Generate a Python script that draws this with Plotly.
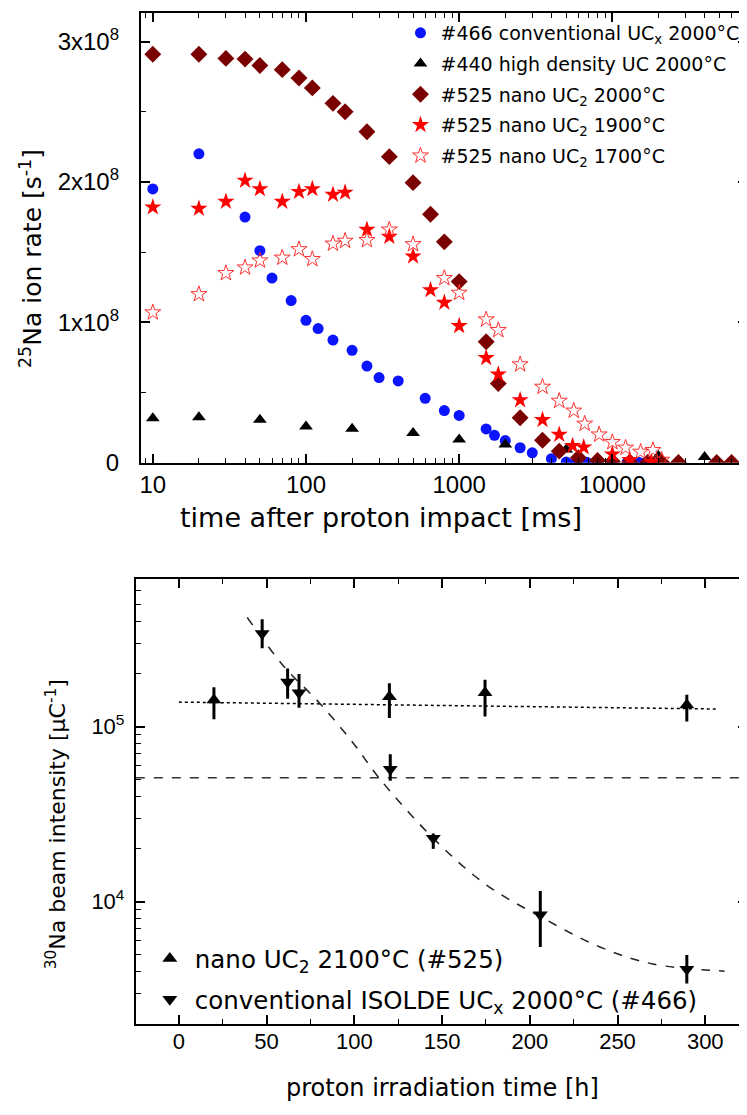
import plotly.graph_objects as go

W, H = 747, 1115
OX, OY = 8, 0  # page offset of the plot div


def fx(px):
    return (px - OX) / W


def fy(py):
    return min(1.0, 1 - (py - OY) / H)


# ---------------- top panel data (time in ms, rate in 1e8 s^-1) ----------------
t_466 = [10, 20, 40, 50, 60, 80, 100, 120, 150, 200, 250, 300, 400, 600, 800, 1000,
         1500, 1700, 2000, 2500, 3000, 4000, 5000, 5800, 6800, 8000, 10000, 12500, 15000, 16500]
r_466 = [1.95, 2.20, 1.75, 1.51, 1.315, 1.155, 1.014, 0.955, 0.873, 0.80, 0.688, 0.606, 0.582,
         0.458, 0.371, 0.336, 0.24, 0.195, 0.157, 0.106, 0.07, 0.028, 0.004, 0.003, 0.002,
         0.002, 0.001, 0.001, 0.001, 0.001]

t_440 = [10, 20, 50, 100, 200, 500, 1000, 2000, 5000, 20000, 40000]
r_440 = [0.317, 0.324, 0.305, 0.258, 0.242, 0.211, 0.164, 0.129, 0.094, 0.047, 0.04]

t_2000 = [10, 20, 30, 40, 50, 70, 90, 110, 150, 180, 250, 350, 500, 650, 800, 1000, 1500,
          1800, 2500, 3500, 4500, 6000, 8000, 10000, 13000, 17000, 21000, 27000, 48000, 60000]
r_2000 = [2.91, 2.91, 2.88, 2.875, 2.83, 2.80, 2.74, 2.67, 2.56, 2.50, 2.357, 2.18, 1.995,
          1.77, 1.573, 1.29, 0.861, 0.563, 0.32, 0.16, 0.082, 0.035, 0.015, 0.008, 0.004,
          0.002, 0.001, 0.001, 0.001, 0.001]

t_1900 = [10, 20, 30, 40, 50, 70, 90, 110, 150, 180, 250, 350, 500, 650, 800, 1000, 1500,
          1800, 2500, 3500, 4500, 5500, 6500, 10000, 13000, 18000]
r_1900 = [1.82, 1.81, 1.86, 2.01, 1.95, 1.86, 1.93, 1.95, 1.91, 1.925, 1.66, 1.61, 1.47,
          1.23, 1.14, 0.974, 0.746, 0.629, 0.446, 0.305, 0.20, 0.12, 0.11, 0.06, 0.02, 0.005]

t_1700 = [10, 20, 30, 40, 50, 70, 90, 110, 150, 180, 250, 350, 500, 800, 1000, 1500, 1800,
          2500, 3500, 4500, 5600, 6600, 8200, 10000, 12200, 15300, 18400, 21000]
r_1700 = [1.07, 1.20, 1.35, 1.39, 1.44, 1.46, 1.52, 1.45, 1.56, 1.58, 1.585, 1.66, 1.556,
          1.315, 1.21, 1.02, 0.944, 0.70, 0.54, 0.44, 0.37, 0.277, 0.20, 0.146, 0.106,
          0.077, 0.089, 0.02]

top_x_ticks = [10, 100, 1000, 10000]
top_y_ticks = [0, 1e8, 2e8, 3e8]
top_y_text = ["0", "1x10<sup>8</sup>", "2x10<sup>8</sup>", "3x10<sup>8</sup>"]

# ---------------- bottom panel data (irradiation time h, intensity uC^-1) ----------------
conv_t = [47.5, 62, 68.5, 120.5, 145, 206, 289.5]
conv_y = [3.4e5, 1.8e5, 1.56e5, 5.7e4, 2.3e4, 8.4e3, 4.1e3]
conv_hi = [4.1e5, 2.15e5, 2.0e5, 6.95e4, 2.45e4, 1.15e4, 4.95e3]
conv_lo = [2.8e5, 1.44e5, 1.28e5, 4.9e4, 2.0e4, 5.5e3, 3.4e3]

nano_t = [20, 120, 174.5, 289.5]
nano_y = [1.42e5, 1.48e5, 1.56e5, 1.33e5]
nano_hi = [1.68e5, 1.77e5, 1.85e5, 1.52e5]
nano_lo = [1.1e5, 1.12e5, 1.14e5, 1.07e5]

nano_fit_t = [0, 307]
nano_fit_y = [1.38e5, 1.26e5]

conv_level = 5.1e4

conv_fit_t = [39, 60, 80, 100, 114, 145, 175, 206, 240, 270, 311]
conv_fit_y = [4.2e5, 2.2e5, 1.37e5, 7.9e4, 5.1e4, 2.3e4, 1.25e4, 8.2e3, 5.5e3, 4.4e3, 4.0e3]

bot_x_range = [-24.5, 323.8]
bot_y_ticks = [1e4, 1e5]
bot_y_text = ["10<sup>4</sup>", "10<sup>5</sup>"]

# ---------------- figure ----------------
ARIAL = "Liberation Sans, Arial, sans-serif"
DEJA = "DejaVu Sans, Verdana, sans-serif"

fig = go.Figure()


def top_trace(x, y, name, symbol, color, size, lw=0):
    fig.add_trace(go.Scatter(
        x=x, y=[v * 1e8 for v in y], mode="markers", name=name,
        marker=dict(symbol=symbol, color=color, size=size, line=dict(width=lw, color=color)),
        xaxis="x", yaxis="y", legend="legend", legendgroup=name))


top_trace(t_466, r_466, "#466 conventional UC<sub>x</sub> 2000°C", "circle", "#0a14ff", 11)
top_trace(t_440, r_440, "#440 high density UC 2000°C", "triangle-up", "black", 12)
top_trace(t_2000, r_2000, "#525 nano UC<sub>2</sub> 2000°C", "diamond", "#7a0000", 13)
top_trace(t_1900, r_1900, "#525 nano UC<sub>2</sub> 1900°C", "star", "#ff0000", 13)
top_trace(t_1700, r_1700, "#525 nano UC<sub>2</sub> 1700°C", "star-open", "#ff3030", 12, 1)

# bottom panel lines
fig.add_trace(go.Scatter(x=nano_fit_t, y=nano_fit_y, mode="lines",
                         line=dict(color="black", width=1.5, dash="dot"),
                         xaxis="x2", yaxis="y2", showlegend=False, hoverinfo="skip"))
fig.add_trace(go.Scatter(x=bot_x_range, y=[conv_level, conv_level], mode="lines",
                         line=dict(color="#333", width=1.5, dash="dash"),
                         xaxis="x2", yaxis="y2", showlegend=False, hoverinfo="skip"))
fig.add_trace(go.Scatter(x=conv_fit_t, y=conv_fit_y, mode="lines", line_shape="spline",
                         line=dict(color="#222", width=1.5, dash="dash"),
                         xaxis="x2", yaxis="y2", showlegend=False, hoverinfo="skip"))

fig.add_trace(go.Scatter(
    x=nano_t, y=nano_y, mode="markers", name="nano UC<sub>2</sub> 2100°C (#525)",
    marker=dict(symbol="triangle-up", color="black", size=13),
    error_y=dict(type="data", symmetric=False,
                 array=[h - v for h, v in zip(nano_hi, nano_y)],
                 arrayminus=[v - l for v, l in zip(nano_y, nano_lo)],
                 width=0, thickness=3, color="black"),
    xaxis="x2", yaxis="y2", legend="legend2", legendgroup="a"))
fig.add_trace(go.Scatter(
    x=conv_t, y=conv_y, mode="markers", name="conventional ISOLDE UC<sub>x</sub> 2000°C (#466)",
    marker=dict(symbol="triangle-down", color="black", size=13),
    error_y=dict(type="data", symmetric=False,
                 array=[h - v for h, v in zip(conv_hi, conv_y)],
                 arrayminus=[v - l for v, l in zip(conv_y, conv_lo)],
                 width=0, thickness=3, color="black"),
    xaxis="x2", yaxis="y2", legend="legend2", legendgroup="b"))

axis_common = dict(showline=True, linecolor="black", linewidth=2, mirror="ticks",
                   ticks="inside", ticklen=9, tickwidth=1.5, tickcolor="black",
                   showgrid=False, zeroline=False)

top_minor_x = [m * 10 ** e for e in range(0, 5) for m in range(2, 10)]
bot_minor_y = [m * 10 ** e for e in range(3, 6) for m in range(2, 10)]

fig.update_layout(
    width=W, height=H,
    margin=dict(l=0, r=0, t=0, b=0),
    paper_bgcolor="white", plot_bgcolor="white",
    xaxis=dict(domain=[fx(140), fx(747)], anchor="y", type="log", range=[0.9218, 4.879],
               tickmode="array", tickvals=top_x_ticks, ticktext=[str(v) for v in top_x_ticks],
               tickfont=dict(family=ARIAL, size=24, color="black"),
               minor=dict(tickmode="array", tickvals=top_minor_x, ticks="inside",
                          ticklen=5, tickwidth=1.2, tickcolor="black"),
               **axis_common),
    yaxis=dict(domain=[fy(460), fy(5)], anchor="x", range=[0, 3.204e8],
               tickmode="array", tickvals=top_y_ticks, ticktext=top_y_text,
               tickfont=dict(family=ARIAL, size=24, color="black"),
               ticklabelstandoff=15,
               minor=dict(tickmode="linear", tick0=0, dtick=5e7, ticks="inside",
                          ticklen=5, tickwidth=1.2, tickcolor="black"),
               **axis_common),
    xaxis2=dict(domain=[fx(135), fx(747)], anchor="y2", range=bot_x_range,
                tickmode="linear", tick0=0, dtick=50,
                tickfont=dict(family=ARIAL, size=22, color="black"),
                ticklabelstandoff=-3,
                minor=dict(tickmode="linear", tick0=0, dtick=25, ticks="inside",
                           ticklen=5, tickwidth=1.2, tickcolor="black"),
                **axis_common),
    yaxis2=dict(domain=[fy(1028), fy(578)], anchor="x2", type="log", range=[3.3, 5.842],
                tickmode="array", tickvals=bot_y_ticks, ticktext=bot_y_text,
                tickfont=dict(family=ARIAL, size=22, color="black"),
                ticklabelstandoff=5,
                minor=dict(tickmode="array", tickvals=bot_minor_y, ticks="inside",
                           ticklen=5, tickwidth=1.2, tickcolor="black"),
                **axis_common),
    legend=dict(x=fx(400), y=fy(6), xanchor="left", yanchor="top",
                font=dict(family=DEJA, size=19, color="black"),
                bgcolor="rgba(0,0,0,0)", tracegroupgap=3, itemwidth=30),
    legend2=dict(x=fx(144), y=fy(939), xanchor="left", yanchor="top",
                 font=dict(family=DEJA, size=24.5, color="black"),
                 bgcolor="rgba(0,0,0,0)", tracegroupgap=6, itemwidth=40),
    annotations=[
        dict(text="time after proton impact [ms]", x=fx(380), y=fy(516),
             xref="paper", yref="paper", showarrow=False, xanchor="center", yanchor="middle",
             font=dict(family=DEJA, size=27, color="black")),
        dict(text="<sup>25</sup>Na ion rate [s<sup>-1</sup>]", x=fx(30), y=fy(253),
             xref="paper", yref="paper", showarrow=False, textangle=-90,
             xanchor="center", yanchor="middle",
             font=dict(family=DEJA, size=25, color="black")),
        dict(text="proton irradiation time [h]", x=fx(442), y=fy(1093),
             xref="paper", yref="paper", showarrow=False, xanchor="center", yanchor="middle",
             font=dict(family=DEJA, size=24, color="black")),
        dict(text="<sup>30</sup>Na beam intensity [µC<sup>-1</sup>]", x=fx(55), y=fy(826),
             xref="paper", yref="paper", showarrow=False, textangle=-90,
             xanchor="center", yanchor="middle",
             font=dict(family=DEJA, size=22, color="black")),
    ],
)

fig.write_html("out.html")
